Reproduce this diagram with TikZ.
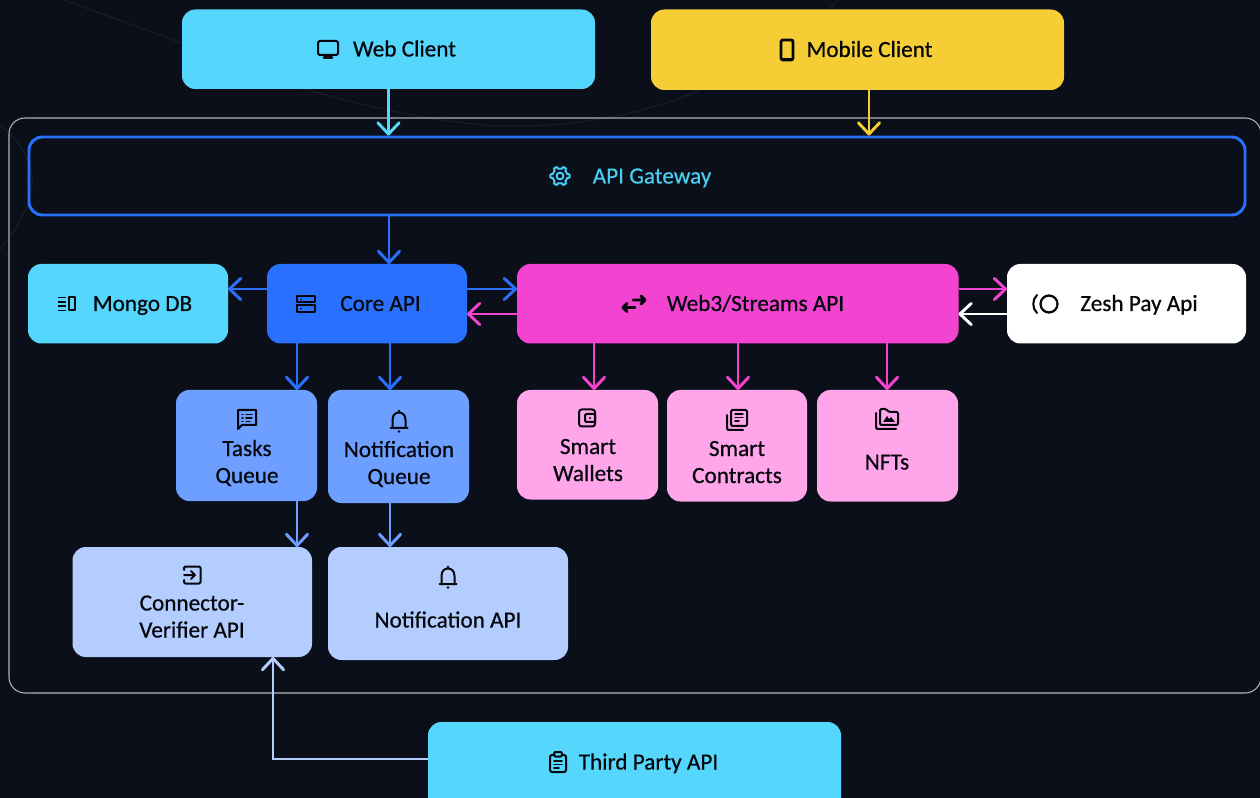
\documentclass[tikz,border=0pt]{standalone}
\usepackage{fontspec}
\setmainfont[RawFeature={embolden=0.6}]{Carlito}
\usetikzlibrary{arrows.meta}
\definecolor{bgc}{HTML}{0B0F19}
\definecolor{ink}{HTML}{05070C}
\definecolor{cyanb}{HTML}{55D6FC}
\definecolor{cyant}{HTML}{46CDF0}
\definecolor{yellowb}{HTML}{F5CD35}
\definecolor{blueb}{HTML}{2970FF}
\definecolor{midb}{HTML}{6C9FFF}
\definecolor{paleb}{HTML}{B3CDFF}
\definecolor{magb}{HTML}{F244D0}
\definecolor{pinkb}{HTML}{FFA6EB}
\definecolor{ghost}{HTML}{191E29}
\tikzset{
  x=0.75pt,y=-0.75pt,
  boxn/.style={rectangle,rounded corners=10pt,inner sep=0pt,outer sep=0pt},
  txt/.style={inner sep=0pt,outer sep=0pt,anchor=base,align=center,text=ink,font=\fontsize{17.4}{20.25}\selectfont},
  arr/.style={line width=2.2pt,-{Straight Barb[length=8.5pt,width=16pt,round]}},
  iconl/.style={color=ink,line width=1.5pt,line cap=round,line join=round}
}
\newcommand{\bx}[6]{\node[boxn,fill=#6,minimum width={(#4-#2)*0.75pt},minimum height={(#5-#3)*0.75pt}] (#1) at ({(#2+#4)/2},{(#3+#5)/2}) {};}
\newcommand{\tx}[4]{\node[txt] (#1) at (#2,#3) {#4};}
\newcommand{\icon}[3]{\begin{scope}[shift={(#1,#2)},iconl]#3\end{scope}}
\newcommand{\bell}{\draw (-8.5,7) -- (8.5,7) (-6.5,7) -- (-6.5,-1) .. controls (-6.5,-6.5) and (-3,-8.5) .. (0,-8.5) .. controls (3,-8.5) and (6.5,-6.5) .. (6.5,-1) -- (6.5,7); \fill (0,-10) circle[radius=1.3]; \fill (0,10.5) circle[radius=1.4];}
\begin{document}
\begin{tikzpicture}
\useasboundingbox (0,0) rectangle (1260,798);
\clip (0,0) rectangle (1260,798);
\fill[bgc] (0,0) rectangle (1260,798);
% faint background curves
\draw[ghost,line width=0.8pt] (64,0) -- (190,46);
\draw[ghost,line width=0.8pt] (295,86) .. controls (380,112) and (470,128) .. (520,126) .. controls (590,125) and (650,112) .. (705,88) .. controls (760,62) and (810,30) .. (838,0);
\draw[ghost,line width=0.8pt] (0,125) .. controls (20,140) and (34,165) .. (32,185) .. controls (30,210) and (15,230) .. (0,250);
% outer frame
\draw[rounded corners=12pt,color=white!68!bgc,line width=0.8pt] (9,118) rectangle (1261,693);
% boxes
\bx{web}{182}{9.5}{595}{89}{cyanb}
\bx{mob}{651}{9.5}{1064}{90}{yellowb}
\node[rectangle,rounded corners=10pt,draw=blueb,line width=2.2pt,inner sep=0pt,minimum width={1216*0.75pt},minimum height={78*0.75pt}] (gw) at (637,176) {};
\bx{mongo}{28}{264}{228}{343.5}{cyanb}
\bx{core}{267}{264}{467}{343.5}{blueb}
\bx{w3}{517}{264}{958.5}{343.5}{magb}
\bx{zesh}{1007}{264}{1246}{343.5}{white}
\bx{tasks}{176}{390}{317}{501}{midb}
\bx{nq}{328}{390}{469}{503}{midb}
\bx{sw}{517}{390}{658}{499.5}{pinkb}
\bx{sc}{667}{390}{807}{501.5}{pinkb}
\bx{nft}{817}{390}{958}{501.5}{pinkb}
\bx{conn}{72.5}{547}{312}{657}{paleb}
\bx{napi}{328}{547}{568}{660}{paleb}
\bx{third}{428}{722}{841}{812}{cyanb}
% connectors
\draw[arr,cyanb] (web.south) -- (gw.north -| web.south);
\draw[arr,yellowb] (mob.south -| 869,0) -- (gw.north -| 869,0);
\draw[arr,blueb] (gw.south -| 389,0) -- (core.north -| 389,0);
\draw[arr,blueb] (core.west |- 0,289) -- (mongo.east |- 0,289);
\draw[arr,blueb] (core.east |- 0,289) -- (w3.west |- 0,289);
\draw[arr,magb] (w3.west |- 0,314) -- (core.east |- 0,314);
\draw[arr,magb] (w3.east |- 0,289) -- (zesh.west |- 0,289);
\draw[arr,white] (zesh.west |- 0,314) -- (w3.east |- 0,314);
\draw[arr,blueb] (core.south -| 297,0) -- (tasks.north -| 297,0);
\draw[arr,blueb] (core.south -| 390,0) -- (nq.north -| 390,0);
\draw[arr,midb] (tasks.south -| 297,0) -- (conn.north -| 297,0);
\draw[arr,midb] (nq.south -| 390,0) -- (napi.north -| 390,0);
\draw[arr,magb] (w3.south -| 594,0) -- (sw.north -| 594,0);
\draw[arr,magb] (w3.south -| 738,0) -- (sc.north -| 738,0);
\draw[arr,magb] (w3.south -| 887,0) -- (nft.north -| 887,0);
\draw[arr,paleb] (third.west |- 0,759) -| (conn.south -| 273,0);
% labels
\tx{twebc}{404.5}{56.5}{Web Client}
\tx{tmob}{869.5}{57}{Mobile Client}
\node[txt,text=cyant] (tgw) at (652,183.5) {API Gateway};
\tx{tmongo}{142.5}{311}{Mongo DB}
\tx{tcore}{380.5}{311}{Core API}
\tx{tw3}{755.5}{311}{Web3/Streams API}
\tx{tzesh}{1139}{311}{Zesh Pay Api}
\tx{ttasks}{247}{483}{Tasks\\Queue}
\tx{tnq}{399}{484}{Notification\\Queue}
\tx{tsw}{588}{481}{Smart\\Wallets}
\tx{tsc}{737}{483}{Smart\\Contracts}
\tx{tnft}{887}{469.5}{NFTs}
\tx{tconn}{192}{637.5}{Connector-\\Verifier API}
\tx{tnapi}{448}{627.5}{Notification API}
\tx{tthird}{648.5}{769.5}{Third Party API}
% icons
\icon{328}{49}{\draw[rounded corners=1.5pt] (-10,-8) rectangle (10,6); \draw[line width=2pt] (-4,8.5) -- (4,8.5);}
\icon{787}{50}{\draw[rounded corners=1.5pt,line width=2.2pt] (-6,-10) rectangle (6,10); \draw[line width=2.4pt] (-5,9.5) -- (5,9.5);}
\icon{560}{176}{\begin{scope}[color=cyant]\draw plot[domain=0:360,samples=73] (\x:{(cos(6*\x)>0)?9.6:7.4}) -- cycle; \draw (0,0) circle[radius=3.4];\end{scope}}
\icon{67}{304}{\draw[line width=1.2pt,line cap=butt] (-9.5,-6.5) -- (-1.5,-6.5) (-9.5,-2.2) -- (-1.5,-2.2) (-9.5,2.2) -- (-1.5,2.2) (-9.5,6.5) -- (-1.5,6.5); \draw (2,-6.5) rectangle (8,6.5);}
\icon{306}{304}{\draw (-9,-8) rectangle (9,-1.5) (-9,1.5) rectangle (9,8); \fill (-5,-4.7) circle[radius=1] (-5,4.7) circle[radius=1];}
\icon{634}{304}{\draw[line width=2.2pt] (-11,3.5) -- (1,3.5) (-7,-0.5) -- (-11,3.5) -- (-7,7.5) (-1,-4) -- (11,-4) (7,-8) -- (11,-4) -- (7,0);}
\icon{1045}{304}{\draw[line width=1.7pt] (4,0) circle[radius=8.5]; \draw[line width=1.5pt] (-8,-9) .. controls (-13,-4) and (-13,4) .. (-8,9);}
\icon{247}{419}{\draw (-9,-9) -- (9,-9) -- (9,6) -- (-5,6) -- (-9,10) -- cycle; \draw[line width=1.1pt] (-5,-4.5) -- (-4,-4.5) (-1,-4.5) -- (5,-4.5) (-5,-1) -- (-4,-1) (-1,-1) -- (5,-1) (-5,2.5) -- (-4,2.5) (-1,2.5) -- (3,2.5);}
\icon{399}{421}{\bell}
\icon{448}{577}{\bell}
\icon{587}{418}{\draw[rounded corners=2pt] (-8,-8.5) rectangle (8,8.5); \draw[rounded corners=1pt] (-2,-4) rectangle (8,4); \fill (3,0) circle[radius=1.2];}
\icon{737}{420}{\draw[rounded corners=1pt] (-6,-10) rectangle (10,6); \draw[rounded corners=1pt] (-10,-5) -- (-10,10) -- (6,10); \draw[line width=1.1pt] (-2,-6) -- (6,-6) (-2,-2.5) -- (6,-2.5) (-2,1) -- (2,1);}
\icon{887}{419}{\draw[rounded corners=1pt] (-7,-10) -- (-1,-10) -- (2,-7) -- (11,-7) -- (11,6) -- (-7,6) -- cycle; \draw[rounded corners=1pt] (-11,-6) -- (-11,10) -- (9,10); \fill (-4,3) -- (0,-3) -- (2,0) -- (4,-2) -- (8,3) -- cycle;}
\icon{192}{575}{\draw[rounded corners=1pt] (-8,-5) -- (-8,-8.5) -- (8.5,-8.5) -- (8.5,8.5) -- (-8,8.5) -- (-8,5); \draw (-8,0) -- (3,0) (-1,-4) -- (3,0) -- (-1,4);}
\icon{558}{762}{\draw[rounded corners=1.5pt] (-8,-7) rectangle (8,10); \draw[rounded corners=1pt,fill=cyanb] (-4,-10) rectangle (4,-5.5); \draw[line width=1.2pt] (-4,-1) -- (4,-1) (-4,2.5) -- (4,2.5) (-4,6) -- (1,6);}
\end{tikzpicture}
\end{document}
